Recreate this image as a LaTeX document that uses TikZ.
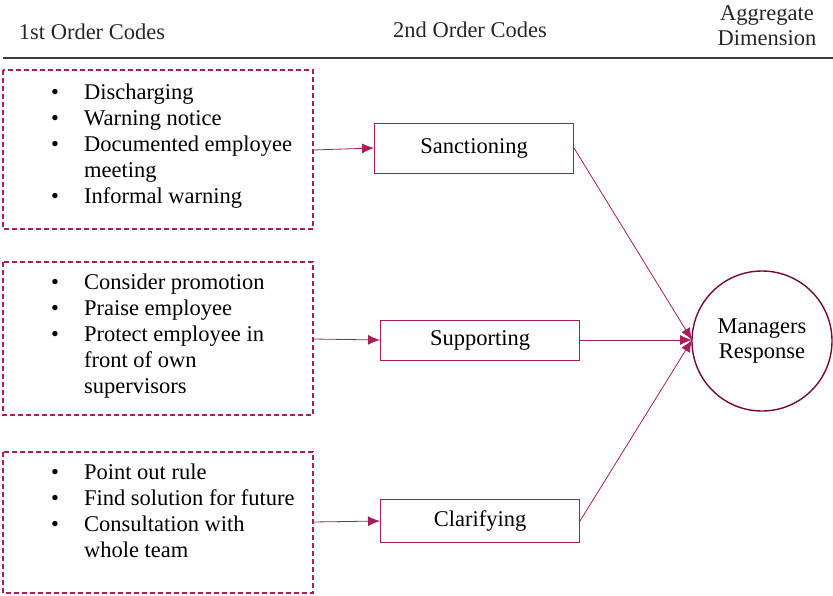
\documentclass[tikz,border=0pt]{standalone}
\usepackage{fontspec}
\setmainfont{Liberation Serif}
\usetikzlibrary{arrows.meta}
\definecolor{boxred}{RGB}{165,30,90}
\definecolor{ringred}{RGB}{115,10,60}
\definecolor{headgray}{RGB}{60,60,60}
\tikzset{
  codebox/.style={draw=boxred, line width=1.3pt, dash pattern=on 5pt off 3pt},
  catbox/.style={draw=boxred, line width=1pt, minimum width=199pt, inner sep=0pt,
    font=\fontsize{22.5}{26}\selectfont},
  dimcircle/.style={draw=ringred, circle, line width=1.4pt, minimum size=140pt, inner sep=0pt,
    align=center, font=\fontsize{22.5}{25}\selectfont},
  headtext/.style={align=center, font=\fontsize{22.5}{25}\selectfont, text=black!85},
  itemlist/.style={anchor=base west, inner sep=0pt, font=\fontsize{22.5}{26}\selectfont},
  link/.style={draw=boxred, line width=0.8pt, -{Latex[length=12pt,width=10pt]}}
}
\newcommand{\codelist}[1]{\begin{tabular}[t]{@{}l@{\hspace{25pt}}l@{}}#1\end{tabular}}
\begin{document}
\begin{tikzpicture}[x=1pt,y=-1pt]
\useasboundingbox (0,0) rectangle (833,595);

% column headings
\node[headtext] (h1) at (92,32) {1st Order Codes};
\node[headtext] (h2) at (470,30) {2nd Order Codes};
\node[headtext] (h3) at (767,26) {Aggregate\\Dimension};
\draw[headgray, line width=1.2pt] (3,58) -- (833,58);

% first order code boxes
\draw[codebox] (3,70) rectangle (313,229);
\draw[codebox] (3,262) rectangle (313,415);
\draw[codebox] (3,452) rectangle (313,593);
\coordinate (b1) at (313,150);
\coordinate (b2) at (313,339);
\coordinate (b3) at (313,522);

\node[itemlist] (l1) at (51,99) {\codelist{%
  \textbullet & Discharging\\
  \textbullet & Warning notice\\
  \textbullet & Documented employee\\
              & meeting\\
  \textbullet & Informal warning}};
\node[itemlist] (l2) at (51,289) {\codelist{%
  \textbullet & Consider promotion\\
  \textbullet & Praise employee\\
  \textbullet & Protect employee in\\
              & front of own\\
              & supervisors}};
\node[itemlist] (l3) at (51,479) {\codelist{%
  \textbullet & Point out rule\\
  \textbullet & Find solution for future\\
  \textbullet & Consultation with\\
              & whole team}};

% second order codes
\node[catbox, minimum height=50pt] (s1) at (474,148) {\raisebox{3pt}{Sanctioning}};
\node[catbox, minimum height=40pt] (s2) at (480,340) {Supporting};
\node[catbox, minimum height=43pt] (s3) at (480,521) {Clarifying};

% aggregate dimension
\node[dimcircle] (agg) at (762,341) {Managers\\Response};
\coordinate (tip) at (692,340);

% connectors
\draw[link] (b1) -- (s1.west);
\draw[link] (b2) -- (s2.west);
\draw[link] (b3) -- (s3.west);
\draw[link] (s1.east) -- (tip);
\draw[link] (s2.east) -- (tip);
\draw[link] (s3.east) -- (tip);
\end{tikzpicture}
\end{document}
